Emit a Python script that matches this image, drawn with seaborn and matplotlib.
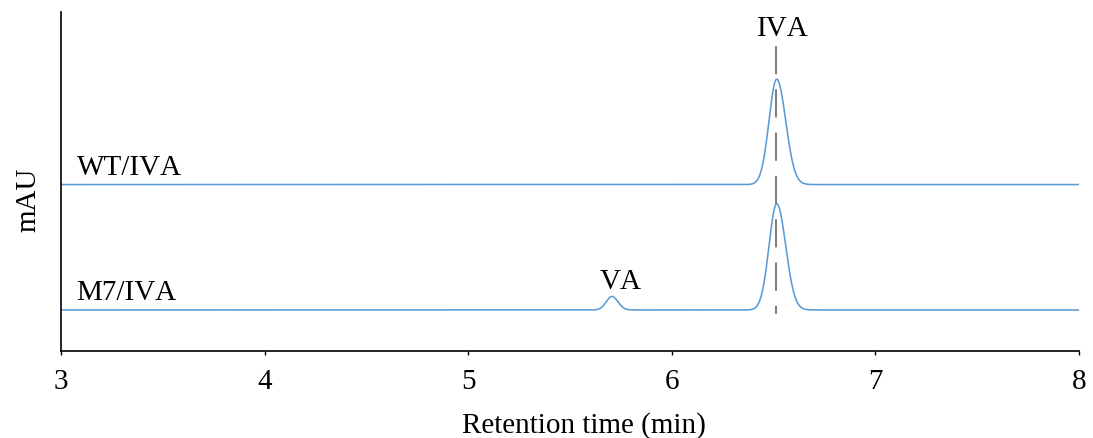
import numpy as np
import pandas as pd
import matplotlib
matplotlib.use("Agg")
import matplotlib.pyplot as plt
import matplotlib.transforms as mtransforms
import seaborn as sns

# Samples and their vertical trace offsets (mAU)
samples = ["WT/IVA", "M7/IVA"]
baselines = [49.1, 12.1]

# Peak table per sample: retention time (min), height (mAU), left/right widths (min)
peak_times = {"WT/IVA": [6.515], "M7/IVA": [5.705, 6.515]}
peak_heights = {"WT/IVA": [31.1], "M7/IVA": [4.0, 31.3]}
peak_sigma_left = {"WT/IVA": [0.038], "M7/IVA": [0.028, 0.038]}
peak_sigma_right = {"WT/IVA": [0.044], "M7/IVA": [0.030, 0.044]}

# Peak annotations
peak_names = ["IVA", "VA"]
name_x = [6.544, 5.749]
name_y = [93.2, 18.6]

ref_time = 6.51           # reference retention time of IVA
x_ticks = [3, 4, 5, 6, 7, 8]

t = np.linspace(3, 8, 5001)


def trace(sample):
    y = np.zeros_like(t)
    for rt, h, sl, sr in zip(peak_times[sample], peak_heights[sample],
                             peak_sigma_left[sample], peak_sigma_right[sample]):
        s = np.where(t < rt, sl, sr)
        y += h * np.exp(-0.5 * ((t - rt) / s) ** 2)
    return y


frames = []
for name, base in zip(samples, baselines):
    frames.append(pd.DataFrame({"time": t, "signal": base + trace(name), "sample": name}))
df = pd.concat(frames, ignore_index=True)

sns.set_theme(style="white")
plt.rcParams["font.family"] = ["Liberation Serif", "DejaVu Serif"]
plt.rcParams["text.color"] = "black"
plt.rcParams["axes.labelcolor"] = "black"
plt.rcParams["xtick.color"] = "black"
plt.rcParams["text.kerning_factor"] = 6

FS = 21

fig = plt.figure(figsize=(10.93, 4.39), dpi=100)
W, H = 1093, 439
ax = fig.add_axes([61.3 / W, (H - 352) / H, (1079 - 61.3) / W, (352 - 13) / H])

blue = "#5B9BD5"
sns.lineplot(data=df, x="time", y="signal", hue="sample", units="sample",
             estimator=None, palette=[blue, blue], linewidth=1.15,
             legend=False, ax=ax, sort=False)

ax.plot([ref_time, ref_time], [90.0, 11.0], color="#808080", linewidth=1.45,
        linestyle=(0, (14, 7.5)), zorder=1)

# Trace labels
for name, base in zip(samples, baselines):
    ax.text(3.075, base + 3.2, name, fontsize=FS, ha="left", va="baseline")

for n, x, y in zip(peak_names, name_x, name_y):
    ax.text(x, y, n, fontsize=FS, ha="center", va="baseline")

ax.set_xlim(3, 8)
ax.set_ylim(0, 100)
ax.set_xticks(x_ticks)
ax.set_xticklabels([str(v) for v in x_ticks], fontsize=FS)
shift = mtransforms.ScaledTranslation(4.5 / 100, 0, fig.dpi_scale_trans)
for lbl in ax.get_xticklabels():
    lbl.set_transform(lbl.get_transform() + shift)
ax.set_yticks([])
ax.set_xlabel("Retention time (min)", fontsize=FS, va="top")
ax.xaxis.set_label_coords(0.514, -0.176)
ax.set_ylabel("mAU", fontsize=FS)
ax.yaxis.set_label_coords(-0.020, 0.448)

for side in ["top", "right"]:
    ax.spines[side].set_visible(False)
for side in ["left", "bottom"]:
    ax.spines[side].set_color("black")
    ax.spines[side].set_linewidth(1.2)
ax.tick_params(axis="x", direction="out", length=3, width=1.0, color="black",
               pad=9, bottom=True)

fig.savefig("out.png", dpi=100)
